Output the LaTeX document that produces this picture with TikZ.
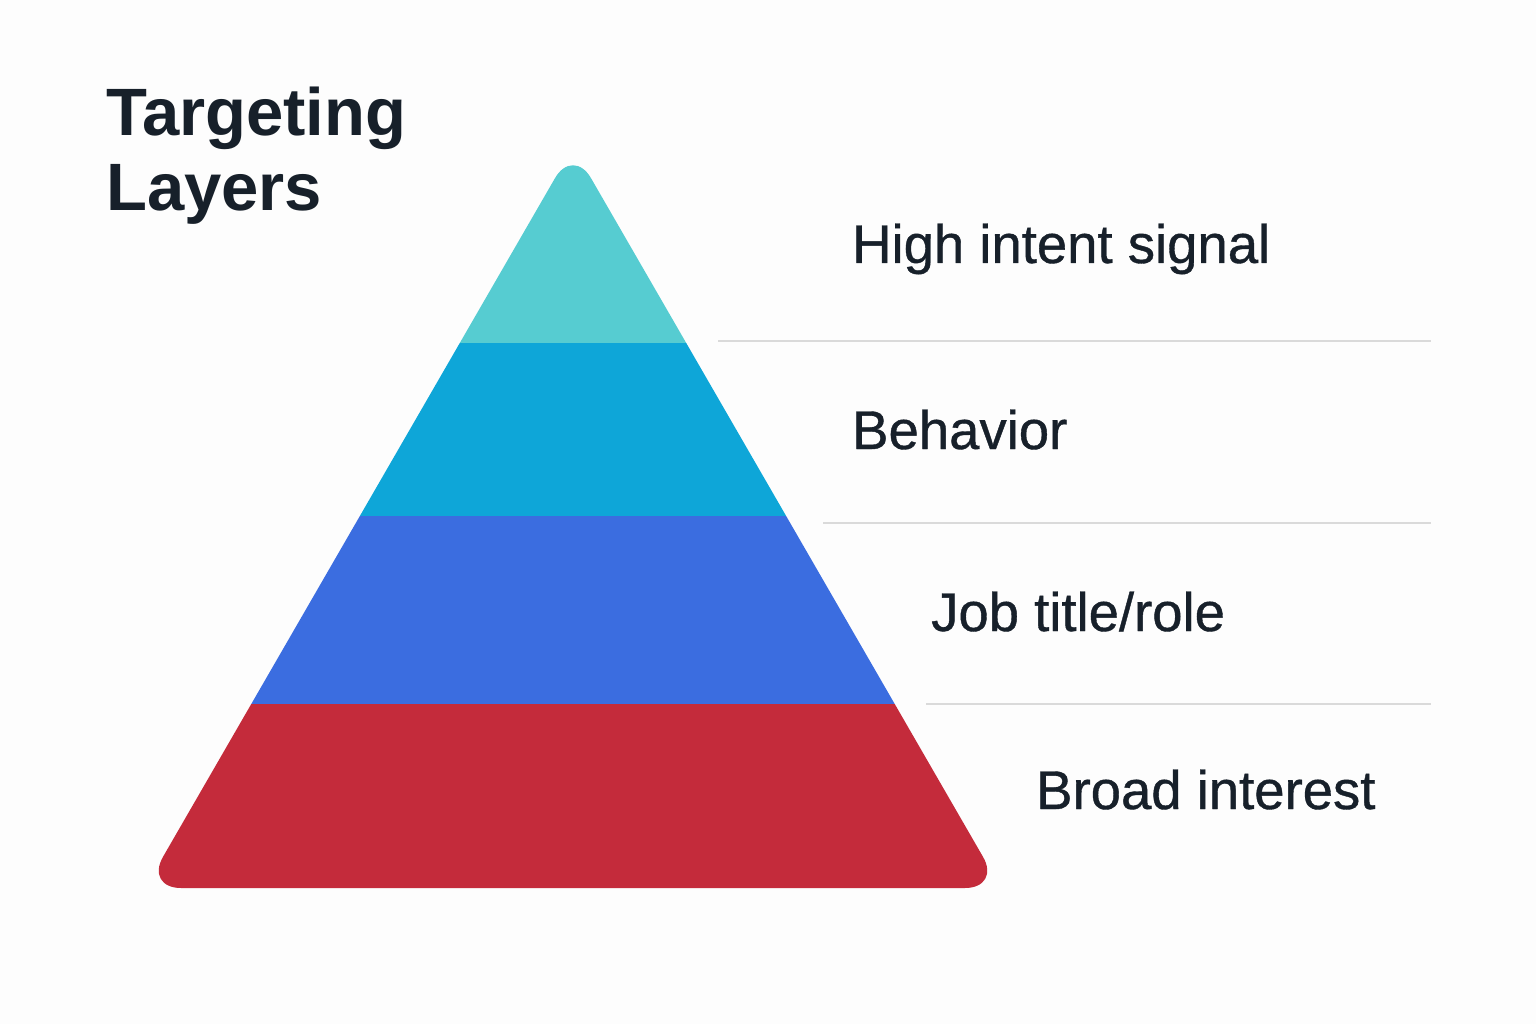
\documentclass[tikz,border=0pt]{standalone}
\usepackage{fontspec}
\setmainfont{Liberation Sans}
\newfontfamily\medfont[FakeBold=0.7]{Liberation Sans}
\definecolor{bg}{HTML}{FDFDFD}
\definecolor{ink}{HTML}{17202A}
\definecolor{teal}{HTML}{56CCD1}
\definecolor{sky}{HTML}{0EA6D8}
\definecolor{royal}{HTML}{3B6DE0}
\definecolor{crimson}{HTML}{C42B3B}
\definecolor{rule}{HTML}{DADADA}
\tikzset{
  lbl/.style={anchor=base west, inner sep=0pt, text=ink, font=\medfont\fontsize{54.5}{60}\selectfont},
  ttl/.style={anchor=base west, inner sep=0pt, text=ink, align=left, font=\fontsize{67}{75}\selectfont\bfseries},
  sep/.style={draw=rule, line width=2.2pt}
}
\begin{document}
\begin{tikzpicture}[x=1pt,y=-1pt]
\useasboundingbox (0,0) rectangle (1536,1024);
\fill[bg] (0,0) rectangle (1536,1024);
% pyramid
\begin{scope}
\clip[rounded corners=36pt] (573,147) -- (1001,888) -- (145,888) -- cycle;
\fill[teal] (100,100) rectangle (1100,343);
\fill[sky] (100,343) rectangle (1100,516);
\fill[royal] (100,516) rectangle (1100,704);
\fill[crimson] (100,704) rectangle (1100,900);
\end{scope}
% separators
\coordinate (s1a) at (718,341); \coordinate (s1b) at (1431,341);
\coordinate (s2a) at (823,523); \coordinate (s2b) at (1431,523);
\coordinate (s3a) at (926,704); \coordinate (s3b) at (1431,704);
\draw[sep] (s1a) -- (s1b);
\draw[sep] (s2a) -- (s2b);
\draw[sep] (s3a) -- (s3b);
% labels
\node[lbl] (l1) at (852,263) {High intent signal};
\node[lbl] (l2) at (852,449) {Behavior};
\node[lbl] (l3) at (931,631) {Job title/role};
\node[lbl] (l4) at (1036,809) {Broad interest};
% title
\node[ttl] (t1) at (106,136) {Targeting};
\node[ttl] (t2) at (106,211) {Layers};
\end{tikzpicture}
\end{document}
